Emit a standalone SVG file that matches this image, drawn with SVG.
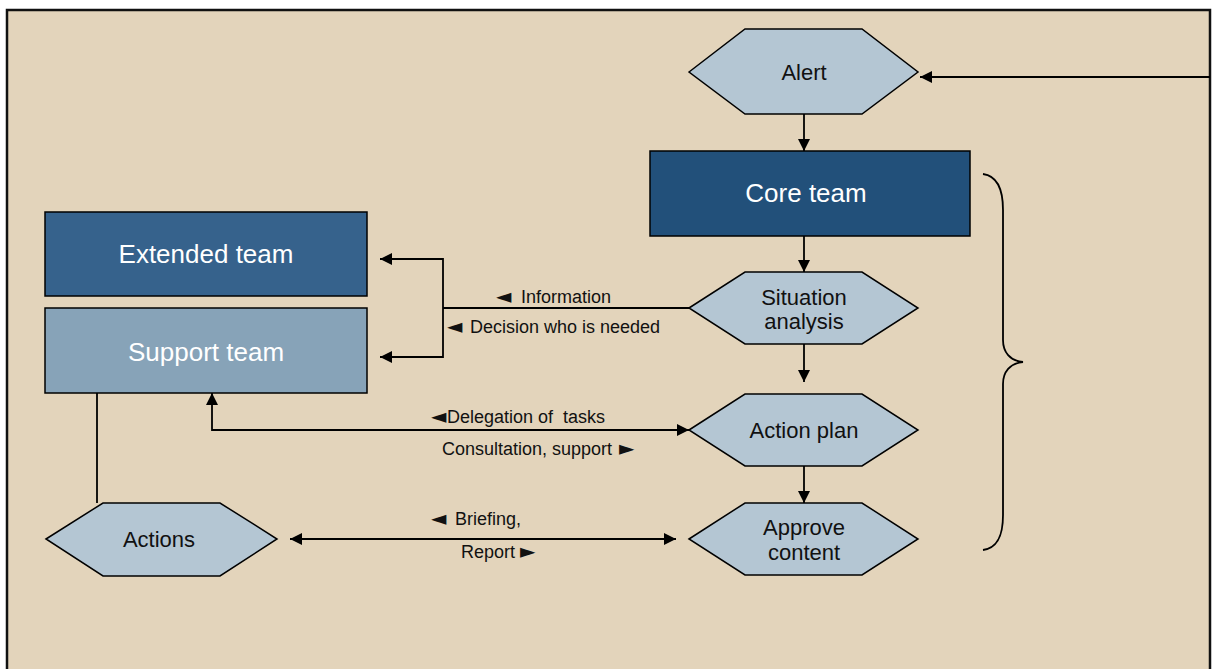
<svg xmlns="http://www.w3.org/2000/svg" width="1212" height="669" viewBox="0 0 1212 669">
<defs>
<marker id="ah" viewBox="0 0 10 10" refX="10" refY="5" markerWidth="12" markerHeight="12" markerUnits="userSpaceOnUse" orient="auto-start-reverse">
<path d="M0,0 L10,5 L0,10 z" fill="#000"/>
</marker>
<style>
.hex{fill:#b4c6d3;stroke:#000;stroke-width:1.5}
.box{stroke:#000;stroke-width:1.5}
.lt{font-family:"Liberation Sans",Arial,sans-serif;fill:#fff;font-size:26px;text-anchor:middle}
.ht{font-family:"Liberation Sans",Arial,sans-serif;fill:#111;font-size:22px;text-anchor:middle}
.cl{font-family:"Liberation Sans",Arial,sans-serif;fill:#111;font-size:18px}
.ar{font-family:"DejaVu Sans","Liberation Sans",sans-serif;font-size:20px}
.c{fill:none;stroke:#000;stroke-width:1.8}
</style>
</defs>
<rect x="0" y="0" width="1212" height="669" fill="#fff"/>
<rect x="7" y="10" width="1203" height="670" fill="#e3d4bb"/>
<path d="M7,669 L7,10 L1210,10 L1210,669" fill="none" stroke="#111" stroke-width="2.5"/>

<g id="connectors">
<line class="c" x1="804" y1="114" x2="804" y2="151" marker-end="url(#ah)"/>
<line class="c" x1="804" y1="236" x2="804" y2="272" marker-end="url(#ah)"/>
<line class="c" x1="804" y1="344" x2="804" y2="382" marker-end="url(#ah)"/>
<line class="c" x1="804" y1="466" x2="804" y2="503" marker-end="url(#ah)"/>
<line class="c" x1="1210" y1="77" x2="920" y2="77" marker-end="url(#ah)"/>
<line class="c" x1="689" y1="308" x2="443" y2="308"/>
<polyline class="c" points="380,259 443,259 443,357 380,357" marker-start="url(#ah)" marker-end="url(#ah)"/>
<polyline class="c" points="212,393 212,430 689,430" marker-start="url(#ah)" marker-end="url(#ah)"/>
<line class="c" x1="290" y1="539" x2="676" y2="539" marker-start="url(#ah)" marker-end="url(#ah)"/>
<line class="c" x1="97" y1="393" x2="97" y2="503" stroke-width="1.5"/>
<path class="c" d="M983,174 C998,176 1003,190 1003,210 L1003,340 C1003,352 1010,361 1023,362 C1010,363 1003,372 1003,384 L1003,515 C1003,535 998,548 983,550"/>
<text class="cl" x="496" y="303"><tspan class="ar">◄</tspan><tspan x="521">Information</tspan></text>
<text class="cl" x="447" y="333"><tspan class="ar">◄</tspan><tspan x="470">Decision who is needed</tspan></text>
<text class="cl" x="431" y="423"><tspan class="ar">◄</tspan><tspan x="447">Delegation of&#160; tasks</tspan></text>
<text class="cl" x="442" y="455">Consultation, support <tspan class="ar" x="619">►</tspan></text>
<text class="cl" x="431" y="525"><tspan class="ar">◄</tspan><tspan x="455">Briefing,</tspan></text>
<text class="cl" x="461" y="558">Report <tspan class="ar" x="520">►</tspan></text>
</g>

<g id="alert">
<polygon class="hex" points="689,72 745,29 862,29 918,72 862,114 745,114"/>
<text class="ht" x="804" y="80">Alert</text>
</g>
<g id="core-team">
<rect class="box" x="650" y="151" width="320" height="85" fill="#22507a"/>
<text class="lt" x="806" y="202">Core team</text>
</g>
<g id="extended-team">
<rect class="box" x="45" y="212" width="322" height="84" fill="#36628c"/>
<text class="lt" x="206" y="263">Extended team</text>
</g>
<g id="support-team">
<rect class="box" x="45" y="308" width="322" height="85" fill="#87a3b8"/>
<text class="lt" x="206" y="361">Support team</text>
</g>
<g id="situation-analysis">
<polygon class="hex" points="689,308 745,272 862,272 918,308 862,344 745,344"/>
<text class="ht" x="804" y="305">Situation</text>
<text class="ht" x="804" y="329">analysis</text>
</g>
<g id="action-plan">
<polygon class="hex" points="689,430 745,394 862,394 918,430 862,466 745,466"/>
<text class="ht" x="804" y="438">Action plan</text>
</g>
<g id="approve-content">
<polygon class="hex" points="689,539 745,503 862,503 918,539 862,575 745,575"/>
<text class="ht" x="804" y="535">Approve</text>
<text class="ht" x="804" y="560">content</text>
</g>
<g id="actions">
<polygon class="hex" points="46,539 103,503 220,503 277,539 220,576 103,576"/>
<text class="ht" x="159" y="547">Actions</text>
</g>
</svg>
